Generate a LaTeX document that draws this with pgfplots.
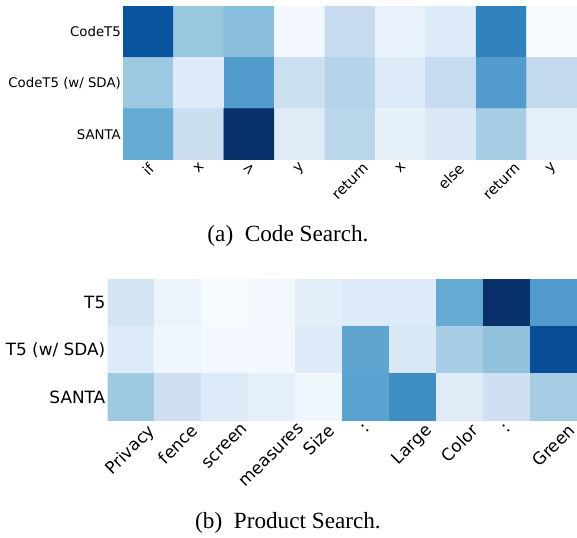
\documentclass[border=0pt]{standalone}
\usepackage{pgfplots}
\pgfplotsset{compat=1.18}
\usepackage{fontspec}
\setmainfont{Liberation Serif}
\newfontfamily\dejavu{DejaVu Sans}
\pgfplotsset{
  colormap={mplblues}{rgb255(0)=(247,251,255) rgb255(1)=(222,235,247) rgb255(2)=(198,219,239) rgb255(3)=(158,202,225) rgb255(4)=(107,174,214) rgb255(5)=(66,146,198) rgb255(6)=(33,113,181) rgb255(7)=(8,81,156) rgb255(8)=(8,48,107)},
  heat/.style={
    scale only axis,
    anchor=south west,
    axis line style={draw=none},
    major tick length=0pt,
    y dir=reverse,
    ymin=-0.5, ymax=2.5,
    ytick={0,1,2},
    xtick=data,
    point meta min=0, point meta max=1,
    enlargelimits=false,
    xticklabel style={anchor=north, inner sep=0pt, yshift=-2bp},
    yticklabel style={anchor=east, inner sep=2bp},
  }
}
\pgfplotstableread{
x y c
0 0 0.87
1 0 0.39
2 0 0.43
3 0 0.02
4 0 0.25
5 0 0.07
6 0 0.13
7 0 0.69
8 0 0.01
0 1 0.38
1 1 0.13
2 1 0.58
3 1 0.22
4 1 0.30
5 1 0.13
6 1 0.25
7 1 0.58
8 1 0.26
0 2 0.52
1 2 0.23
2 2 1.00
3 2 0.12
4 2 0.29
5 2 0.08
6 2 0.14
7 2 0.35
8 2 0.09
}\codetab
\pgfplotstableread{
x y c
0 0 0.18
1 0 0.06
2 0 0.01
3 0 0.02
4 0 0.10
5 0 0.13
6 0 0.13
7 0 0.52
8 0 1.00
9 0 0.58
0 1 0.13
1 1 0.04
2 1 0.025
3 1 0.02
4 1 0.13
5 1 0.54
6 1 0.15
7 1 0.35
8 1 0.41
9 1 0.89
0 2 0.375
1 2 0.21
2 2 0.13
3 2 0.09
4 2 0.04
5 2 0.55
6 2 0.64
7 2 0.12
8 2 0.21
9 2 0.35
}\prodtab
\begin{document}
\begin{tikzpicture}
\path[use as bounding box] (0,0) rectangle (577bp,538bp);
\begin{axis}[heat,
  at={(123bp,378bp)}, width=454bp, height=154bp,
  xmin=-0.5, xmax=8.5,
  xtick={0,...,8},
  yticklabel style={font=\dejavu\fontsize{13.3bp}{15bp}\selectfont},
  xticklabel style={font=\dejavu\fontsize{14.5bp}{16bp}\selectfont},
  yticklabels={CodeT5, CodeT5 (w/ SDA), SANTA},
  xticklabels={\rotatebox{45}{if},\rotatebox{45}{x},\rotatebox{45}{>},\rotatebox{45}{y},\rotatebox{45}{return},\rotatebox{45}{x},\rotatebox{45}{else},\rotatebox{45}{return},\rotatebox{45}{y}},
]
\addplot[matrix plot*, mesh/cols=9, point meta=explicit, colormap name=mplblues] table[x=x, y=y, meta=c] {\codetab};
\end{axis}
\node[anchor=base, font=\fontsize{23.2bp}{25bp}\selectfont] at (288bp,296bp) {(a)\hspace{0.5em}Code Search.};
\begin{axis}[heat,
  at={(107.5bp,117.3bp)}, width=469.5bp, height=141.7bp,
  xmin=-0.5, xmax=9.5,
  xtick={0,...,9},
  ticklabel style={font=\dejavu\fontsize{16.9bp}{19bp}\selectfont},
  yticklabels={T5, T5 (w/ SDA), SANTA},
  xticklabels={\rotatebox{45}{Privacy},\rotatebox{45}{fence},\rotatebox{45}{screen},\rotatebox{45}{measures},\rotatebox{45}{Size},\rotatebox{45}{:},\rotatebox{45}{Large},\rotatebox{45}{Color},\rotatebox{45}{:},\rotatebox{45}{Green}},
]
\addplot[matrix plot*, mesh/cols=10, point meta=explicit, colormap name=mplblues] table[x=x, y=y, meta=c] {\prodtab};
\end{axis}
\node[anchor=base, font=\fontsize{23.2bp}{25bp}\selectfont] at (288bp,10bp) {(b)\hspace{0.5em}Product Search.};
\end{tikzpicture}
\end{document}
